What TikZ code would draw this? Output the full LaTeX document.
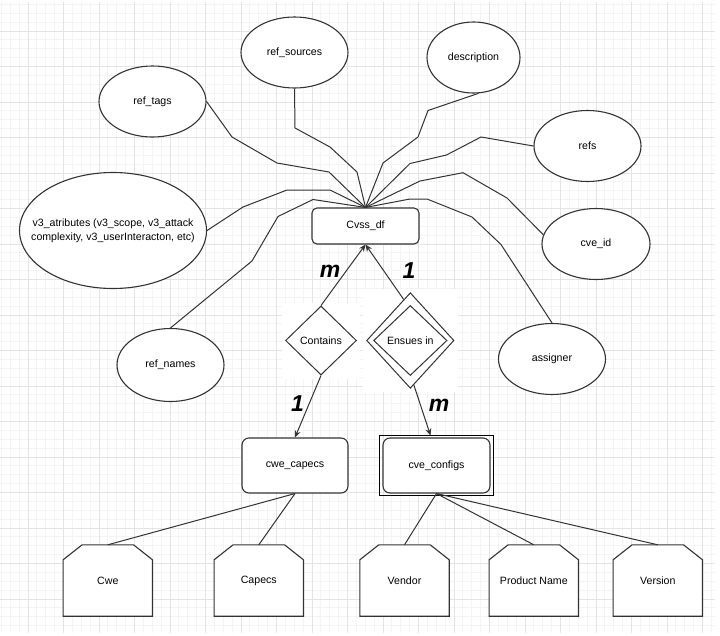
\documentclass[tikz,border=0pt]{standalone}
\usepackage{fontspec}
\setmainfont{Liberation Sans}
\usetikzlibrary{shapes.geometric,arrows.meta,calc}

\pgfdeclarelayer{back}
\pgfsetlayers{back,main}

\definecolor{gridmajor}{HTML}{E4E4E4}
\definecolor{gridminor}{HTML}{F4F4F4}
\definecolor{ink}{HTML}{333333}

\newcommand\erfont{\fontsize{10.6pt}{14pt}\selectfont}
\newcommand\cardfont{\fontsize{23pt}{23pt}\selectfont\bfseries\itshape}

\tikzset{
  attr/.style={ellipse, draw=ink, line width=1.1pt, fill=white, inner sep=0pt, font=\erfont},
  entity/.style={rectangle, rounded corners=5pt, draw=ink, line width=1.1pt, fill=white, inner sep=0pt, font=\erfont},
  rel/.style={diamond, draw=ink, line width=1pt, fill=white, inner sep=0pt, font=\erfont},
  leafbox/.style={rectangle, inner sep=0pt, minimum width=89pt, minimum height=71pt, font=\erfont},
  leafshape/.style={draw=ink, line width=1.1pt, fill=white},
  link/.style={draw=ink, line width=1pt},
  arrowlink/.style={link, -{Stealth[length=7pt,width=6pt]}},
  card/.style={font=\cardfont, inner sep=0pt},
}

\begin{document}
\begin{tikzpicture}[x=1pt,y=-1pt]
\useasboundingbox (0,0) rectangle (720,635);

% page grid
\begin{pgfonlayer}{back}
  \fill[white] (0,0) rectangle (720,635);
  \foreach \i in {-3,...,77} {
    \pgfmathsetmacro\xx{28+8.875*\i}
    \draw[gridminor, line width=1pt] (\xx,2) -- (\xx,633);
  }
  \foreach \j in {-3,...,67} {
    \pgfmathsetmacro\yy{31+8.875*\j}
    \draw[gridminor, line width=1pt] (0,\yy) -- (715,\yy);
  }
  \foreach \i in {0,...,19} {
    \pgfmathsetmacro\xx{28+35.5*\i}
    \draw[gridmajor, line width=1pt] (\xx,2) -- (\xx,633);
  }
  \foreach \j in {0,...,16} {
    \pgfmathsetmacro\yy{31+35.5*\j}
    \draw[gridmajor, line width=1pt] (0,\yy) -- (715,\yy);
  }
\end{pgfonlayer}

% attributes
\node[attr, minimum width=107pt, minimum height=71pt] (sources) at (294.5,52.5) {ref\_sources};
\node[attr, minimum width=93pt, minimum height=71pt] (desc) at (473.5,57.5) {description};
\node[attr, minimum width=107pt, minimum height=71pt] (tags) at (152.5,101.5) {ref\_tags};
\node[attr, minimum width=107pt, minimum height=71pt] (refs) at (587.5,146) {refs};
\node[attr, minimum width=108pt, minimum height=71pt] (cveid) at (596,244) {cve\_id};
\node[attr, minimum width=107pt, minimum height=71pt] (assigner) at (552,359) {assigner};
\node[attr, minimum width=107pt, minimum height=73pt] (names) at (170.5,365) {ref\_names};
\node[attr, minimum width=187pt, minimum height=116pt,
      label={[align=center, font=\erfont, inner sep=0pt]center:v3\_atributes (v3\_scope, v3\_attack\\complexity, v3\_userInteracton, etc)}]
      (v3) at (113,230.5) {};

% entities
\node[entity, minimum width=107pt, minimum height=36pt] (cvss) at (365.5,226) {Cvss\_df};
\node[entity, rounded corners=7pt, minimum width=106pt, minimum height=55pt] (cwecap) at (295,465.5) {cwe\_capecs};
\node[entity, rounded corners=7pt, minimum width=107pt, minimum height=55pt] (cfg) at (436.5,465.5) {cve\_configs};
\draw[black, line width=1.2pt] ([xshift=-3.3pt,yshift=2.3pt]cfg.north west) rectangle ([xshift=3.3pt,yshift=-2.3pt]cfg.south east);

% relationships
\node[rel, minimum width=71pt, minimum height=69pt] (contains) at (321,340.5) {Contains};
\node[rel, minimum width=87.4pt, minimum height=95.6pt] (ensues) at (410.3,340.5) {};
\node[rel, minimum width=73.4pt, minimum height=70pt] (ensuesin) at (410.3,340.5) {Ensues in};

\begin{pgfonlayer}{back}
  \fill[white] ([shift={(-3pt,3pt)}]contains.west |- contains.north) rectangle ([shift={(3pt,-3pt)}]contains.east |- contains.south);
  \fill[white] ([shift={(-3pt,3pt)}]ensues.west |- ensues.north) rectangle ([shift={(3pt,-3pt)}]ensues.east |- ensues.south);
\end{pgfonlayer}

% attribute links
\draw[link] (tags.east) -- (232,137) -- (277,163) -- (329,172) -- (cvss.north);
\draw[link] (sources.south) -- (295,128) -- (330,147) -- (357,172) -- (cvss.north);
\draw[link] (desc.-82) -- (428,110.5) -- (418,137) -- (383,163) -- (cvss.north);
\draw[link] (refs.west) -- (481,137) -- (446.5,155) -- (410,163.5) -- (cvss.north);
\draw[link] (cveid.170) -- (507,198) -- (463,172.7) -- (420,181) -- (cvss.north);
\draw[link] (assigner.north) -- (501,244.5) -- (472,217) -- (427,199) -- (410,199) -- (cvss.north);
\draw[link] (v3.east) -- (243,207) -- (287,190) -- (330,190) -- (cvss.north);
\draw[link] (names.north) -- (252,261) -- (278,216.5) -- (313,199.5) -- (cvss.north);

% relationship links
\draw[arrowlink] (contains.north) -- (cvss.south);
\draw[arrowlink] ($(ensues.north)!0.15!(ensues.west)$) -- (cvss.south);
\draw[arrowlink] (contains.south) -- (cwecap.north);
\draw[arrowlink] ($(ensues.south)!0.08!(ensues.east)$) -- ($(cfg.north)+(-6,-2)$);

% cardinalities
\node[card] (cm1) at (330,271.5) {m};
\node[card] (c11) at (409,270.5) {1};
\node[card] (c12) at (297.5,404) {1};
\node[card] (cm2) at (439,405) {m};

% leaf attributes
\foreach \n/\x/\t in {cwe/107.8/Cwe, capecs/258.8/Capecs, vendor/404.5/Vendor, prod/533.8/Product Name, ver/657.8/Version}
  \node[leafbox] (\n) at (\x,580.5) {\t};

\begin{pgfonlayer}{back}
  \foreach \n in {cwe,capecs,vendor,prod,ver}
    \draw[leafshape] (\n.south west) -- ($(\n.north west)+(0,15)$) -- ($(\n.north west)+(19,0)$)
      -- ($(\n.north east)+(-19,0)$) -- ($(\n.north east)+(0,15)$) -- (\n.south east) -- cycle;
\end{pgfonlayer}

\draw[link] (cwecap.south) -- (cwe.north);
\draw[link] (cwecap.south) -- (capecs.north);
\draw[link] (cfg.south) -- (vendor.north);
\draw[link] (cfg.south) -- (prod.north);
\draw[link] (cfg.south) -- (ver.north);

\end{tikzpicture}
\end{document}
